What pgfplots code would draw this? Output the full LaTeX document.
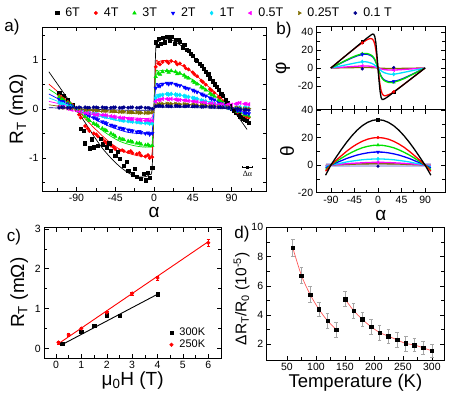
\documentclass[border=0pt]{standalone}
\usepackage{fontspec}
\setmainfont{Liberation Sans}
\newfontfamily\seriffont{Liberation Serif}
\usepackage{pgfplots}
\usepackage{pgfplotstable}
\pgfplotsset{compat=1.18}

\definecolor{cgreen}{RGB}{0,225,0}
\definecolor{cblue}{RGB}{0,0,255}
\definecolor{ccyan}{RGB}{0,225,255}
\definecolor{cmag}{RGB}{255,0,255}
\definecolor{colive}{RGB}{128,110,0}
\definecolor{cnavy}{RGB}{0,0,140}
\definecolor{cband}{RGB}{190,190,235}
\definecolor{cfit}{RGB}{255,90,90}

% panel a: measured R_T vs alpha, one column per field
\pgfplotstableread{
a     b6     b4     b3     b2     b1     b05    b025   b01
-110  0.33   0.26   0.24   0.19   0.12   0.05   0.03   0.02
-105  0.26   0.20   0.18   0.14   0.09   0.03   0.02   0.03
-100  0.18   0.14   0.12   0.10   0.06   0.00   0.01   0.02
-95   0.08   0.08   0.06   0.05   0.03  -0.02   0.01   0.03
-90  -0.02  -0.02   0.00   0.00   0.00  -0.04   0.00   0.02
-85  -0.40  -0.18  -0.07  -0.04  -0.02  -0.06  -0.01   0.02
-80  -0.70  -0.35  -0.16  -0.09  -0.05  -0.08  -0.02   0.03
-75  -0.80  -0.45  -0.24  -0.14  -0.08  -0.10  -0.02   0.02
-70  -0.78  -0.50  -0.30  -0.18  -0.10  -0.11  -0.03   0.03
-65  -0.75  -0.56  -0.35  -0.22  -0.12  -0.12  -0.03   0.02
-60  -0.72  -0.62  -0.40  -0.26  -0.14  -0.13  -0.04   0.03
-55  -0.78  -0.70  -0.45  -0.30  -0.16  -0.14  -0.04   0.02
-50  -0.85  -0.75  -0.50  -0.33  -0.18  -0.15  -0.05   0.02
-45  -0.95  -0.82  -0.56  -0.36  -0.20  -0.17  -0.05   0.03
-40  -1.02  -0.85  -0.60  -0.39  -0.22  -0.18  -0.06   0.02
-35  -1.15  -0.86  -0.63  -0.41  -0.24  -0.19  -0.06   0.03
-30  -1.25  -0.88  -0.66  -0.43  -0.25  -0.20  -0.07   0.02
-25  -1.33  -0.90  -0.68  -0.45  -0.26  -0.21  -0.07   0.03
-20  -1.38  -0.92  -0.70  -0.47  -0.27  -0.22  -0.07   0.02
-15  -1.42  -0.95  -0.72  -0.48  -0.28  -0.23  -0.08   0.03
-10  -1.45  -0.97  -0.74  -0.50  -0.29  -0.24  -0.08   0.02
-5   -1.40  -1.00  -0.76  -0.52  -0.30  -0.25  -0.08   0.01
-2   -1.20  -0.98  -0.75  -0.50  -0.30  -0.24  -0.07   0.00
2     1.35   0.85   0.65   0.42   0.22   0.15   0.07   0.05
5     1.42   0.92   0.72   0.47   0.26   0.18   0.09   0.06
10    1.45   0.95   0.75   0.50   0.28   0.20   0.10   0.05
15    1.47   0.96   0.77   0.52   0.30   0.20   0.10   0.06
20    1.46   0.97   0.77   0.52   0.30   0.20   0.10   0.05
25    1.40   0.95   0.75   0.50   0.29   0.19   0.10   0.06
30    1.36   0.92   0.72   0.47   0.28   0.18   0.09   0.05
35    1.30   0.87   0.68   0.44   0.26   0.17   0.09   0.05
40    1.18   0.80   0.62   0.41   0.24   0.16   0.08   0.06
45    1.08   0.74   0.56   0.38   0.22   0.15   0.08   0.05
50    0.98   0.66   0.50   0.34   0.20   0.14   0.07   0.05
55    0.88   0.57   0.44   0.30   0.17   0.13   0.07   0.04
60    0.76   0.49   0.38   0.26   0.15   0.12   0.06   0.05
65    0.62   0.40   0.31   0.22   0.12   0.11   0.05   0.04
70    0.50   0.32   0.25   0.18   0.10   0.10   0.05   0.04
75    0.38   0.24   0.18   0.13   0.08   0.09   0.04   0.03
80    0.26   0.15   0.12   0.08   0.05   0.09   0.03   0.03
85    0.12   0.07   0.05   0.04   0.03   0.08   0.03   0.02
90    0.00   0.00   0.00   0.00   0.02   0.08   0.02   0.01
95   -0.08  -0.05  -0.04  -0.03   0.02   0.10   0.02   0.00
100  -0.16  -0.10  -0.08  -0.05   0.03   0.12   0.01  -0.01
105  -0.22  -0.14  -0.12  -0.08   0.02   0.10   0.00  -0.02
110  -0.28  -0.18  -0.15  -0.10   0.01   0.09   0.00  -0.03
}\dataA

% panel a: second sweep, shifted by half a step
\pgfplotstableread{
a      b4     b3     b2     b1     b05    b025   b01
-107   0.22   0.20   0.15   0.10   0.04   0.03   0.03
-97    0.10   0.09   0.07   0.04  -0.01   0.01   0.02
-87   -0.12  -0.05  -0.03  -0.02  -0.05   0.00   0.03
-77   -0.40  -0.21  -0.12  -0.07  -0.09  -0.02   0.02
-67   -0.52  -0.32  -0.20  -0.11  -0.12  -0.03   0.03
-57   -0.66  -0.43  -0.28  -0.16  -0.13  -0.04   0.02
-47   -0.78  -0.53  -0.35  -0.19  -0.16  -0.05   0.03
-37   -0.84  -0.62  -0.40  -0.23  -0.19  -0.06   0.02
-27   -0.86  -0.66  -0.44  -0.25  -0.21  -0.07   0.03
-17   -0.90  -0.70  -0.46  -0.27  -0.22  -0.08   0.02
-7    -0.94  -0.73  -0.49  -0.28  -0.23  -0.08   0.02
7      0.90   0.70   0.46   0.27   0.18   0.10   0.06
17     0.93   0.74   0.50   0.29   0.19   0.10   0.05
27     0.90   0.71   0.48   0.28   0.18   0.09   0.06
37     0.82   0.64   0.42   0.25   0.17   0.09   0.05
47     0.70   0.53   0.36   0.21   0.15   0.08   0.05
57     0.54   0.42   0.28   0.16   0.13   0.07   0.04
67     0.37   0.28   0.20   0.11   0.11   0.05   0.04
77     0.21   0.16   0.11   0.07   0.09   0.04   0.03
87     0.04   0.03   0.02   0.03   0.09   0.03   0.02
97    -0.07  -0.06  -0.04   0.02   0.11   0.02   0.00
107   -0.16  -0.13  -0.09   0.02   0.10   0.00  -0.02
}\dataAA

% panel a: fitted curves
\pgfplotstableread{
a     f6     f4     f3     f2     f1     f05    f025   f01
-122  0.75   0.50   0.40   0.30   0.22   0.15   0.08   0.02
-110  0.45   0.32   0.26   0.19   0.14   0.10   0.05   0.015
-100  0.20   0.15   0.12   0.09   0.06   0.04   0.02   0.005
-90  -0.02   0.00   0.00   0.00   0.00   0.00   0.00   0.00
-80  -0.28  -0.20  -0.16  -0.10  -0.06  -0.04  -0.02  -0.005
-70  -0.55  -0.38  -0.30  -0.20  -0.12  -0.08  -0.04  -0.01
-60  -0.80  -0.55  -0.44  -0.29  -0.17  -0.12  -0.06  -0.015
-50  -1.00  -0.70  -0.56  -0.37  -0.21  -0.15  -0.07  -0.02
-40  -1.17  -0.82  -0.66  -0.43  -0.25  -0.17  -0.08  -0.025
-30  -1.30  -0.90  -0.72  -0.48  -0.27  -0.18  -0.09  -0.03
-20  -1.38  -0.95  -0.76  -0.50  -0.29  -0.19  -0.10  -0.03
-10  -1.38  -0.97  -0.78  -0.51  -0.30  -0.20  -0.10  -0.03
-5   -1.33  -0.95  -0.76  -0.50  -0.29  -0.19  -0.10  -0.03
-2   -1.15  -0.85  -0.68  -0.45  -0.26  -0.17  -0.09  -0.03
2     1.20   0.88   0.70   0.46   0.26   0.17   0.09   0.03
5     1.36   0.95   0.76   0.50   0.29   0.19   0.10   0.03
10    1.42   0.98   0.78   0.52   0.30   0.20   0.10   0.03
20    1.40   0.97   0.77   0.51   0.30   0.20   0.10   0.03
30    1.30   0.90   0.72   0.48   0.28   0.19   0.10   0.03
40    1.15   0.80   0.64   0.42   0.25   0.17   0.09   0.03
50    0.97   0.66   0.53   0.35   0.21   0.14   0.07   0.02
60    0.76   0.50   0.40   0.27   0.16   0.11   0.06   0.02
70    0.53   0.34   0.27   0.18   0.11   0.07   0.04   0.01
80    0.28   0.18   0.14   0.09   0.06   0.04   0.02   0.005
90    0.02   0.01   0.01   0.00   0.00   0.00   0.00   0.00
100  -0.22  -0.15  -0.12  -0.08  -0.06  -0.04  -0.02  -0.005
108  -0.42  -0.28  -0.22  -0.15  -0.10  -0.07  -0.04  -0.01
}\fitA

% panel b: phi vs alpha
\pgfplotstableread{
a    p6     p4     p3     p2     p1    p05    p025
-90  0      0      0      0      0     0      0
-80  4.8    4.8    3.0    2.8    1.2   0.4    0.1
-70  9.7    9.7    6.0    5.7    2.4   0.8    0.2
-60  14.5   14.5   9.0    8.5    3.6   1.2    0.3
-50  19.3   19.2   11.8   11.2   4.8   1.6    0.4
-40  24.2   23.8   14.2   13.5   6.0   2.0    0.5
-30  29.0   28.0   15.8   15.0   7.0   2.3    0.6
-25  31.4   30.0   16.2   15.4   7.0   2.3    0.6
-20  33.8   31.8   16.0   15.2   6.6   2.2    0.5
-15  36.0   32.8   15.0   14.2   5.8   2.0    0.5
-12  37.3   32.6   14.0   13.3   5.2   1.8    0.4
-10  37.8   31.8   13.0   12.3   4.6   1.6    0.4
-8   37.5   30.0   11.5   10.9   3.9   1.3    0.3
-6   35.0   26.5   9.5    9.0    3.0   1.0    0.2
-4   28.0   20.0   6.8    6.5    2.1   0.7    0.2
-2   15.0   10.5   3.5    3.3    1.0   0.35   0.1
0    0      0      0      0      0     0      0
2   -14.0  -10.0  -3.5   -3.3   -1.0  -0.35  -0.1
4   -26.0  -19.0  -6.8   -6.5   -2.1  -0.7   -0.2
6   -33.0  -25.0  -9.5   -9.0   -3.0  -1.0   -0.2
8   -35.0  -28.5  -11.5  -10.9  -3.9  -1.3   -0.3
10  -35.0  -30.2  -13.0  -12.3  -4.6  -1.6   -0.4
12  -34.5  -30.8  -14.0  -13.3  -5.2  -1.8   -0.4
15  -33.5  -30.8  -15.0  -14.2  -5.8  -2.0   -0.5
20  -31.5  -29.8  -16.0  -15.2  -6.6  -2.2   -0.5
25  -29.3  -28.5  -16.2  -15.4  -7.0  -2.3   -0.6
30  -27.0  -26.5  -15.8  -15.0  -7.0  -2.3   -0.6
40  -22.5  -22.3  -14.2  -13.5  -6.0  -2.0   -0.5
50  -18.0  -18.0  -11.8  -11.2  -4.8  -1.6   -0.4
60  -13.5  -13.5  -9.0   -8.5   -3.6  -1.2   -0.3
70  -9.0   -9.0   -6.0   -5.7   -2.4  -0.8   -0.2
80  -4.5   -4.5   -3.0   -2.8   -1.2  -0.4   -0.1
90   0      0      0      0      0     0      0
}\phiB

% panel b: theta vs alpha
\pgfplotstableread{
a     t6     t4     t3     t2    t1    t05   t025
-100 -7.3   -4.4   -3.2   -2.1  -1.0  -0.4  -0.2
-90   0      0      0      0     0     0     0
-80   5.7    3.5    2.5    1.7   0.8   0.3   0.2
-70   11.3   6.8    5.0    3.2   1.5   0.7   0.3
-60   16.5   10.0   7.3    4.8   2.3   1.0   0.5
-50   21.2   12.9   9.3    6.1   2.9   1.3   0.6
-40   25.3   15.3   11.1   7.3   3.4   1.5   0.8
-30   28.6   17.3   12.6   8.2   3.9   1.7   0.9
-20   31.0   18.8   13.6   8.9   4.2   1.9   0.9
-10   32.5   19.7   14.3   9.4   4.4   2.0   1.0
0     33.0   20.0   14.5   9.5   4.5   2.0   1.0
10    32.5   19.7   14.3   9.4   4.4   2.0   1.0
20    31.0   18.8   13.6   8.9   4.2   1.9   0.9
30    28.6   17.3   12.6   8.2   3.9   1.7   0.9
40    25.3   15.3   11.1   7.3   3.4   1.5   0.8
50    21.2   12.9   9.3    6.1   2.9   1.3   0.6
60    16.5   10.0   7.3    4.8   2.3   1.0   0.5
70    11.3   6.8    5.0    3.2   1.5   0.7   0.3
80    5.7    3.5    2.5    1.7   0.8   0.3   0.2
90    0      0      0      0     0     0     0
101  -7.3   -4.4   -3.2   -2.1  -1.0  -0.4  -0.2
}\thetaB

\pgfplotsset{
  panel/.style={scale only axis, anchor=south west, tick align=inside,
    axis line style={line width=0.6pt},
    every tick/.style={black, line width=0.5pt},
    tick label style={font=\fontsize{10.5}{12}\selectfont},
    label style={font=\fontsize{19}{20}\selectfont},
    /pgf/number format/assume math mode=true},
  xlab/.style={xlabel style={at={(axis description cs:0.5,#1)}, anchor=center}},
  ylab/.style 2 args={ylabel style={at={(axis description cs:#1,#2)}, anchor=center}},
  markonly legend/.style={legend image code/.code={%
    \draw[##1] plot coordinates {(0pt,0pt)};
    \path[draw=none, fill=none] (-2pt,0pt) -- (6pt,0pt);}},
  s6/.style={only marks, mark=square*, mark size=1.6pt, black},
  s4/.style={only marks, mark=*, mark size=1.7pt, red},
  s3/.style={only marks, mark=triangle*, mark size=2.1pt, cgreen},
  s2/.style={only marks, mark=triangle*, mark size=2.1pt, mark options={rotate=180}, cblue},
  s1/.style={only marks, mark=diamond*, mark size=2.1pt, ccyan},
  s05/.style={only marks, mark=triangle*, mark size=2.1pt, mark options={rotate=90}, cmag},
  s025/.style={only marks, mark=triangle*, mark size=2.1pt, mark options={rotate=-90}, colive},
  s01/.style={only marks, mark=*, mark size=1.7pt, cnavy},
}

\begin{document}
\begin{tikzpicture}
\useasboundingbox (0,0) rectangle (458pt,394pt);

% ---------------- a)
\begin{axis}[panel, at={(42pt,203pt)}, width=224pt, height=164pt,
  xmin=-130, xmax=130, ymin=-1.67, ymax=1.66,
  xtick={-90,-45,0,45,90}, minor xtick={-112.5,-67.5,-22.5,22.5,67.5,112.5},
  ytick={-1,0,1}, minor ytick={-1.5,-0.5,0.5,1.5},
  xlabel={α}, ylabel={R\textsubscript{T} (mΩ)},
  xlab=-0.134, ylab={-0.107}{0.5},
  legend columns=8, markonly legend,
  legend style={at={(0.045,1.085)}, anchor=west, draw=none, fill=none,
    font=\fontsize{12.5}{14}\selectfont,
    /tikz/every even column/.append style={column sep=12pt}},
]
\addplot[s6] table[x=a, y=b6] {\dataA};
\addplot[s4] table[x=a, y=b4] {\dataA};
\addplot[s3] table[x=a, y=b3] {\dataA};
\addplot[s2] table[x=a, y=b2] {\dataA};
\addplot[s1] table[x=a, y=b1] {\dataA};
\addplot[s05] table[x=a, y=b05] {\dataA};
\addplot[s025] table[x=a, y=b025] {\dataA};
\addplot[s01] table[x=a, y=b01] {\dataA};
\legend{6T, 4T, 3T, 2T, 1T, 0.5T, 0.25T, 0.1 T}
% second sweep
\addplot[s6, forget plot] coordinates {
  (-82,-0.45) (-72,-0.62) (-62,-0.60) (-52,-0.70) (-42,-0.88) (-32,-1.08)
  (-22,-1.22) (-12,-1.32) (-7,-1.30) (4,1.28) (8,1.32) (12,1.35) (18,1.38)
  (24,1.32) (28,1.40) (33,1.25) (38,1.20) (43,1.12) (48,1.00) (53,0.92)
  (58,0.82) (63,0.70) (68,0.56) (73,0.44) (78,0.30) (83,0.18) (88,0.05)
  (93,-0.04) (98,-0.12) (103,-0.20) (108,-0.25)};
\addplot[s4, forget plot] table[x=a, y=b4] {\dataAA};
\addplot[s3, forget plot] table[x=a, y=b3] {\dataAA};
\addplot[s2, forget plot] table[x=a, y=b2] {\dataAA};
\addplot[s1, forget plot] table[x=a, y=b1] {\dataAA};
\addplot[s05, forget plot] table[x=a, y=b05] {\dataAA};
\addplot[s025, forget plot] table[x=a, y=b025] {\dataAA};
\addplot[s01, forget plot] table[x=a, y=b01] {\dataAA};
\addplot[black, line width=0.7pt, smooth, tension=0.4, forget plot] table[x=a, y=f6] {\fitA};
\addplot[red, line width=0.7pt, smooth, tension=0.4, forget plot] table[x=a, y=f4] {\fitA};
\addplot[cgreen, line width=0.7pt, smooth, tension=0.4, forget plot] table[x=a, y=f3] {\fitA};
\addplot[cblue, line width=0.7pt, smooth, tension=0.4, forget plot] table[x=a, y=f2] {\fitA};
\addplot[ccyan, line width=0.7pt, smooth, tension=0.4, forget plot] table[x=a, y=f1] {\fitA};
\addplot[cmag, line width=0.7pt, smooth, tension=0.4, forget plot] table[x=a, y=f05] {\fitA};
\addplot[colive, line width=0.7pt, smooth, tension=0.4, forget plot] table[x=a, y=f025] {\fitA};
\addplot[cnavy, line width=0.7pt, smooth, tension=0.4, forget plot] table[x=a, y=f01] {\fitA};
% angular resolution marker
\addplot[black, only marks, mark=square*, mark size=1pt, forget plot,
  error bars/.cd, x dir=both, x explicit, error bar style={line width=0.4pt}]
  coordinates {(108.5,-1.18) +- (6,0)};
\node[font=\seriffont\fontsize{8}{9}\selectfont] at (axis cs:108.5,-1.32) {Δα};
\end{axis}

% ---------------- b) phi
\begin{axis}[panel, at={(316.7pt,284.7pt)}, width=128.3pt, height=82.6pt,
  xmin=-117, xmax=128, ymin=-46, ymax=46,
  xtick={-90,-45,0,45,90}, xticklabels={}, minor x tick num=1,
  ytick={-20,0,20,40}, yticklabels={-20,0,20,40}, minor y tick num=1,
  ylabel={φ}, ylab={-0.263}{0.5},
]
\addplot[colive, line width=1.3pt] table[x=a, y=p025] {\phiB};
\addplot[cmag, line width=1.3pt] table[x=a, y=p05] {\phiB};
\addplot[ccyan, line width=1.3pt] table[x=a, y=p1] {\phiB};
\addplot[cblue, line width=1.3pt] table[x=a, y=p2] {\phiB};
\addplot[cgreen, line width=1.3pt] table[x=a, y=p3] {\phiB};
\addplot[red, line width=1.3pt] table[x=a, y=p4] {\phiB};
\addplot[black, line width=1.3pt] table[x=a, y=p6] {\phiB};
\addplot[s6, mark size=1.4pt] coordinates {(-30,29.0) (30,-27.0)};
\addplot[s4, mark size=1.4pt] coordinates {(-30,28.0) (30,-26.5)};
\addplot[s3, mark size=1.8pt] coordinates {(-30,15.8) (30,-15.8)};
\addplot[s2, mark size=1.8pt] coordinates {(-30,15.0) (30,-15.0)};
\addplot[s1, mark size=1.8pt] coordinates {(-30,7.0) (30,-7.0)};
\addplot[s05, mark size=1.8pt] coordinates {(-30,2.3) (30,-2.3)};
\addplot[s01, mark size=1.4pt] coordinates {(-30,-1.0) (30,0.5)};
\end{axis}

% ---------------- b) theta
\begin{axis}[panel, at={(316.7pt,201.3pt)}, width=128.3pt, height=83.4pt,
  xmin=-117, xmax=128, ymin=-20, ymax=40.5,
  xtick={-90,-45,0,45,90}, minor x tick num=1,
  ytick={-20,0,20,40}, yticklabels={-20,0,20,40}, minor y tick num=1,
  xlabel={α}, ylabel={θ}, xlab=-0.27, ylab={-0.231}{0.5},
]
\addplot[draw=none, fill=cband] coordinates {(-100,-1.6) (101,-1.6) (101,1.2) (-100,1.2)} -- cycle;
\addplot[colive, line width=1.3pt] table[x=a, y=t025] {\thetaB};
\addplot[cmag, line width=1.3pt] table[x=a, y=t05] {\thetaB};
\addplot[ccyan, line width=1.3pt] table[x=a, y=t1] {\thetaB};
\addplot[cblue, line width=1.3pt] table[x=a, y=t2] {\thetaB};
\addplot[cgreen, line width=1.3pt] table[x=a, y=t3] {\thetaB};
\addplot[red, line width=1.3pt] table[x=a, y=t4] {\thetaB};
\addplot[black, line width=1.3pt] table[x=a, y=t6] {\thetaB};
\addplot[s6, mark size=1.4pt] coordinates {(0,33)};
\addplot[s4, mark size=1.4pt] coordinates {(0,20)};
\addplot[s3, mark size=1.8pt] coordinates {(0,14.5)};
\addplot[s2, mark size=1.8pt] coordinates {(0,9.5)};
\addplot[s1, mark size=1.8pt] coordinates {(0,4.5)};
\addplot[s05, mark size=1.8pt] coordinates {(0,2)};
\addplot[s01, mark size=1.4pt] coordinates {(0,-0.8)};
\end{axis}

% ---------------- c)
\begin{axis}[panel, at={(44.3pt,36pt)}, width=176.7pt, height=130.7pt,
  xmin=-0.46, xmax=6.5, ymin=-0.24, ymax=3.04,
  xtick={0,1,2,3,4,5,6}, minor x tick num=1,
  ytick={0,1,2,3}, minor y tick num=1,
  xlabel={μ\textsubscript{0}H (T)}, ylabel={R\textsubscript{T} (mΩ)},
  xlab=-0.17, ylab={-0.142}{0.5},
  markonly legend,
  legend style={at={(0.69,0.148)}, anchor=west, draw=none, fill=none,
    font=\fontsize{11}{13}\selectfont, row sep=-1pt},
]
\addplot[black, line width=0.9pt, forget plot] coordinates {(0.25,0.10) (4,1.36)};
\addplot[red, line width=0.9pt, forget plot] coordinates {(0.1,0.12) (6,2.68)};
\addplot[only marks, mark=square*, mark size=1.7pt, black] coordinates {
  (0.25,0.12) (1,0.42) (1.5,0.57) (2,0.83) (2.5,0.82) (4,1.36)};
\addplot[only marks, mark=*, mark size=1.8pt, red,
  error bars/.cd, y dir=both, y explicit, error bar style={red}] coordinates {
  (0.1,0.15) +- (0,0.04) (0.5,0.34) +- (0,0.03) (1,0.50) +- (0,0.03)
  (2,0.90) +- (0,0.04) (3,1.38) +- (0,0.04) (4,1.77) +- (0,0.05)
  (6,2.65) +- (0,0.08)};
\legend{300K, 250K}
\end{axis}

% ---------------- d)
\begin{axis}[panel, at={(266.7pt,34pt)}, width=177.3pt, height=132.7pt,
  xmin=15, xmax=321, ymin=0.92, ymax=10,
  xtick={50,100,150,200,250,300}, minor x tick num=1,
  ytick={2,4,6,8,10}, minor y tick num=1,
  xlabel={Temperature (K)}, ylabel={ΔR\textsubscript{T}/R\textsubscript{0} (10\textsuperscript{-5})},
  xlab=-0.17, ylab={-0.141}{0.46},
  ylabel style={font=\fontsize{15.5}{17}\selectfont},
  xlabel style={font=\fontsize{18.5}{20}\selectfont},
]
\addplot[cfit, line width=0.7pt, smooth] coordinates {
  (60,8.6) (75,6.7) (90,5.4) (105,4.4) (120,3.6) (135,3.0)};
\addplot[cfit, line width=0.7pt, smooth] coordinates {
  (150,5.1) (165,4.3) (180,3.7) (195,3.2) (210,2.8) (225,2.55) (240,2.3)
  (255,2.05) (270,1.95) (285,1.75) (300,1.55)};
\addplot[only marks, mark=square*, mark size=1.8pt, black,
  error bars/.cd, y dir=both, y explicit, error bar style={gray!70, line width=0.6pt}]
  coordinates {
  (60,8.6) +- (0,0.6) (75,6.7) +- (0,0.55) (90,5.4) +- (0,0.55)
  (105,4.4) +- (0,0.5) (120,3.6) +- (0,0.5) (135,3.0) +- (0,0.5)
  (150,5.1) +- (0,0.5) (165,4.3) +- (0,0.5) (180,3.7) +- (0,0.5)
  (195,3.2) +- (0,0.5) (210,2.8) +- (0,0.5) (225,2.55) +- (0,0.5)
  (240,2.3) +- (0,0.5) (255,2.05) +- (0,0.5) (270,1.95) +- (0,0.45)
  (285,1.75) +- (0,0.45) (300,1.55) +- (0,0.45)};
\end{axis}

\node[font=\fontsize{17}{17}\selectfont] at (12pt,367pt) {a)};
\node[font=\fontsize{17}{17}\selectfont] at (284pt,364pt) {b)};
\node[font=\fontsize{17}{17}\selectfont] at (14pt,157pt) {c)};
\node[font=\fontsize{17}{17}\selectfont] at (242pt,160pt) {d)};
\end{tikzpicture}
\end{document}
